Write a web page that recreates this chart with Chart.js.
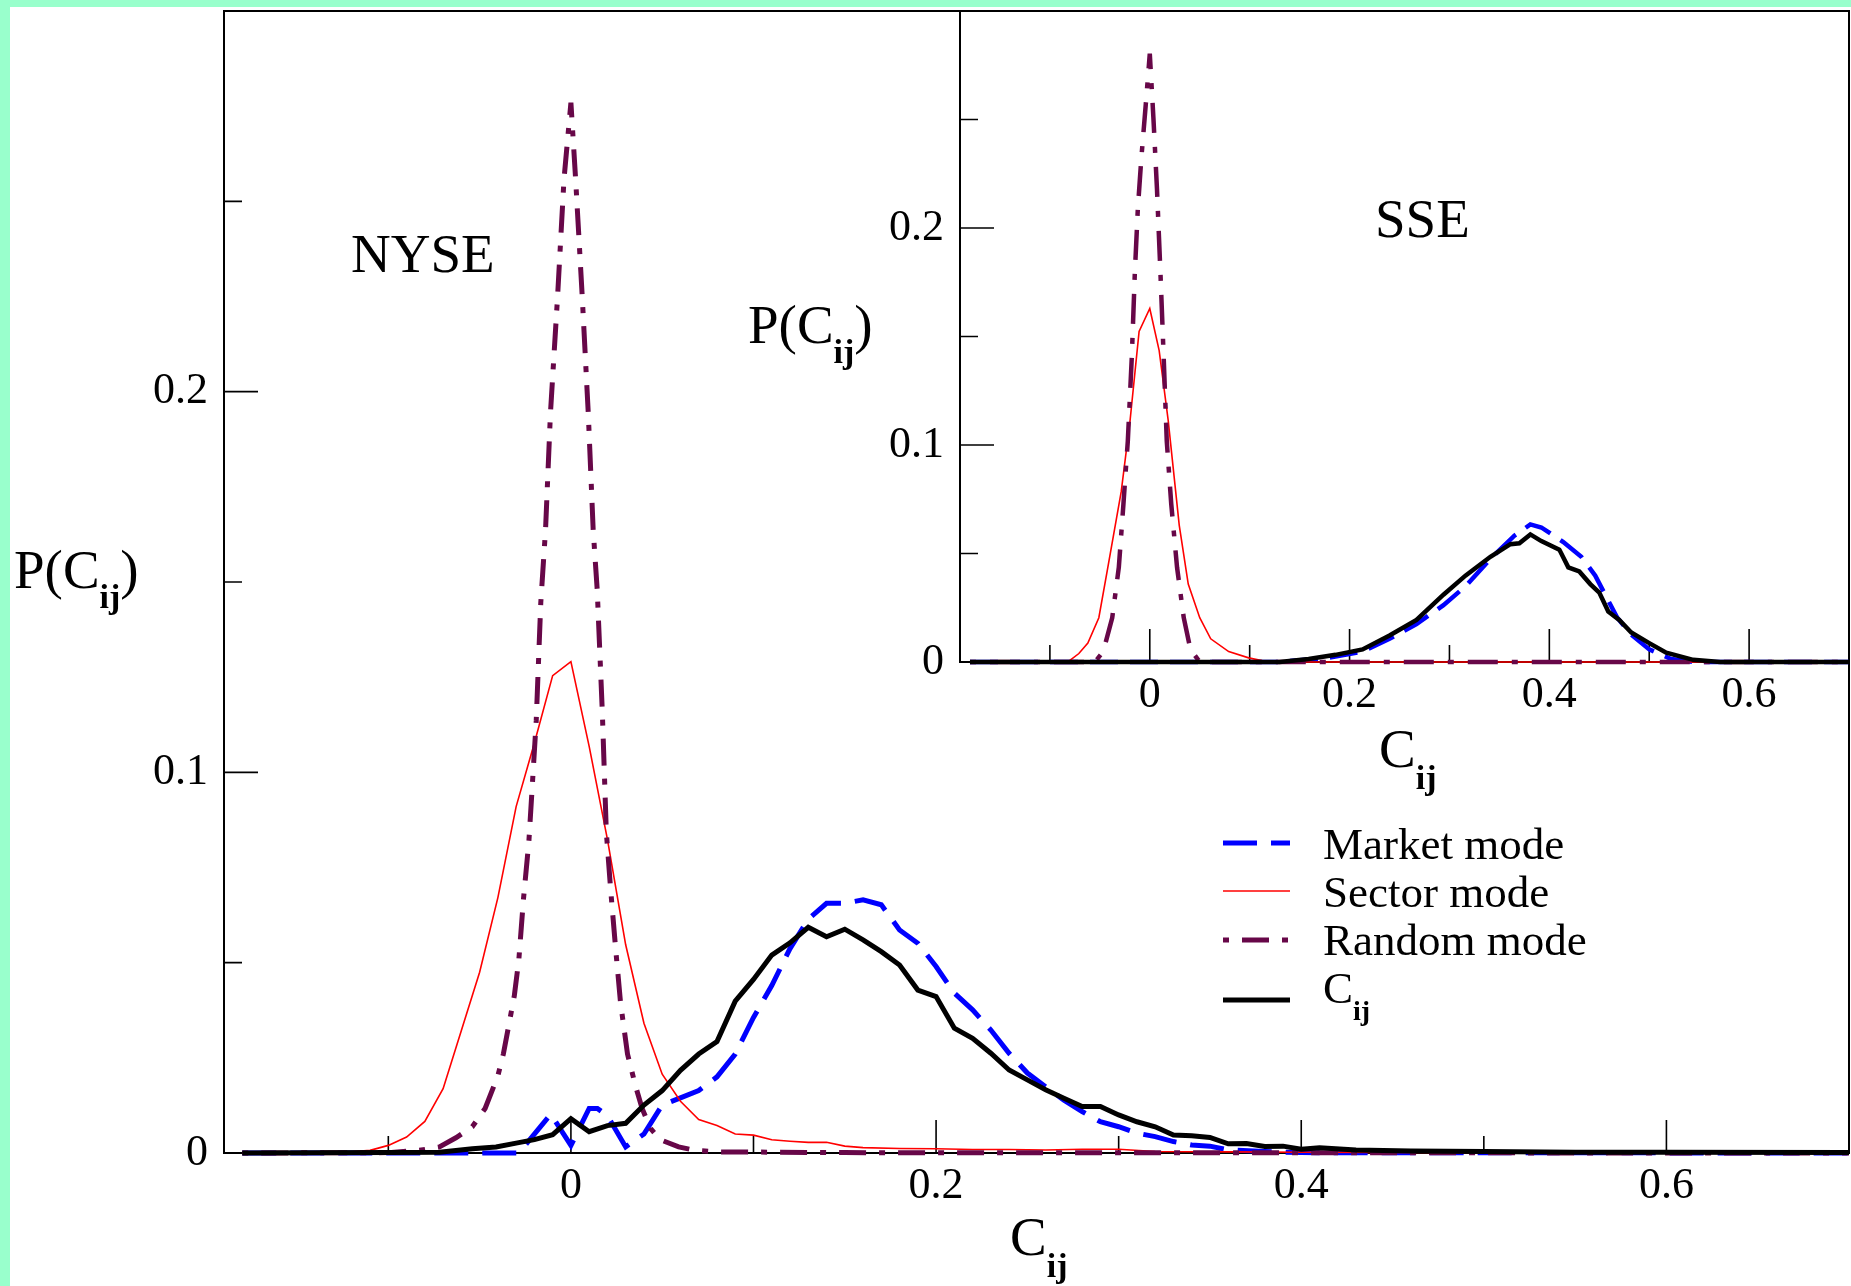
<!DOCTYPE html>
<html>
<head>
<meta charset="utf-8">
<script src="https://cdn.jsdelivr.net/npm/chart.js@4.4.1/dist/chart.umd.min.js"></script>
<style>
    html, body { margin: 0; padding: 0; }
    body { width: 1851px; height: 1286px; background: #99ffcc; position: relative; overflow: hidden; }
    #paper { position: absolute; left: 10px; top: 7px; right: 0; bottom: 0; background: #fff; }
    canvas { position: absolute; }
    #mainChart { left: 0; top: 0; }
    #insetChart { left: 700px; top: 0; }
</style>
</head>
<body>
<div id="paper"></div>
<canvas id="mainChart" width="1851" height="1286"></canvas>
<canvas id="insetChart" width="1151" height="820"></canvas>
<script>
const SERIF = "'Liberation Serif', 'Times New Roman', serif";

// NYSE distributions
const nyseMarketX = [-0.18, -0.04, -0.0285, -0.011, 0, 0.01, 0.0145, 0.02, 0.03, 0.04, 0.05, 0.06, 0.07, 0.08, 0.09, 0.10, 0.11, 0.12, 0.13, 0.14, 0.15, 0.16, 0.17, 0.18, 0.19, 0.20, 0.21, 0.22, 0.23, 0.24, 0.25, 0.26, 0.27, 0.28, 0.29, 0.30, 0.31, 0.32, 0.33, 0.34, 0.35, 0.36, 0.38, 0.40, 0.70];
const nyseMarketY = [0, 0, 0, 0.0102, 0.002, 0.0117, 0.0117, 0.0098, 0.0016, 0.005, 0.0126, 0.0145, 0.0164, 0.020, 0.026, 0.0356, 0.044, 0.0537, 0.0614, 0.0656, 0.0656, 0.0665, 0.0652, 0.0586, 0.0551, 0.049, 0.042, 0.0376, 0.0323, 0.0262, 0.021, 0.0174, 0.0139, 0.0109, 0.0082, 0.0069, 0.0052, 0.0043, 0.003, 0.0021, 0.0018, 0.0008, 0.0004, 0.0001, 0];

const nyseSectorX = [-0.18, -0.15, -0.12, -0.11, -0.10, -0.09, -0.08, -0.07, -0.06, -0.05, -0.04, -0.03, -0.02, -0.01, 0, 0.01, 0.02, 0.03, 0.04, 0.05, 0.06, 0.07, 0.08, 0.09, 0.10, 0.11, 0.12, 0.13, 0.14, 0.15, 0.16, 0.18, 0.20, 0.22, 0.24, 0.26, 0.28, 0.30, 0.32, 0.36, 0.40, 0.50, 0.60, 0.70];
const nyseSectorY = [0, 0.0001, 0.0003, 0.0007, 0.002, 0.0042, 0.0083, 0.0169, 0.0322, 0.0475, 0.0671, 0.091, 0.1077, 0.1254, 0.1291, 0.1068, 0.0824, 0.0547, 0.0341, 0.0207, 0.0136, 0.0088, 0.0072, 0.005, 0.0047, 0.0035, 0.0031, 0.0028, 0.0028, 0.0018, 0.0014, 0.0012, 0.0011, 0.0009, 0.0009, 0.0008, 0.001, 0.001, 0.0004, 0.0003, 0.0002, 0.0001, 0.0001, 0];

const nyseRandomX = [-0.18, -0.10, -0.083, -0.072, -0.063, -0.054, -0.047, -0.040, -0.037, -0.031, -0.0285, -0.026, -0.023, -0.021, -0.019, -0.0165, -0.0139, -0.0112, -0.0073, -0.0038, 0, 0.0026, 0.0062, 0.0095, 0.0122, 0.0144, 0.0172, 0.0194, 0.0218, 0.0245, 0.0272, 0.031, 0.0355, 0.039, 0.0437, 0.049, 0.059, 0.068, 0.08, 0.15, 0.70];
const nyseRandomY = [0, 0.0001, 0.0007, 0.0016, 0.004, 0.0069, 0.0117, 0.0203, 0.026, 0.0413, 0.0509, 0.0666, 0.082, 0.0977, 0.1135, 0.1446, 0.1637, 0.1944, 0.225, 0.2557, 0.2759, 0.2557, 0.225, 0.1944, 0.1637, 0.148, 0.1159, 0.0843, 0.069, 0.0537, 0.0394, 0.026, 0.0174, 0.0117, 0.0064, 0.0035, 0.0016, 0.0007, 0.0003, 0.0001, 0];

const nyseCijX = [-0.18, -0.10, -0.072, -0.054, -0.041, -0.03, -0.02, -0.01, 0, 0.01, 0.02, 0.03, 0.04, 0.05, 0.06, 0.07, 0.08, 0.09, 0.10, 0.11, 0.12, 0.13, 0.14, 0.15, 0.16, 0.17, 0.18, 0.19, 0.20, 0.21, 0.22, 0.23, 0.24, 0.25, 0.26, 0.27, 0.28, 0.29, 0.30, 0.31, 0.32, 0.33, 0.34, 0.35, 0.36, 0.37, 0.38, 0.39, 0.40, 0.41, 0.43, 0.46, 0.50, 0.55, 0.60, 0.70];
const nyseCijY = [0, 0.0001, 0.0002, 0.0011, 0.0016, 0.0026, 0.0035, 0.0048, 0.009, 0.0056, 0.0072, 0.0078, 0.0126, 0.0164, 0.0217, 0.026, 0.0293, 0.0399, 0.0456, 0.052, 0.0552, 0.0593, 0.0568, 0.0588, 0.056, 0.0529, 0.0494, 0.0428, 0.0411, 0.0328, 0.0301, 0.0262, 0.0218, 0.0192, 0.0166, 0.0144, 0.0122, 0.0122, 0.010, 0.0082, 0.0069, 0.0047, 0.0045, 0.0041, 0.0024, 0.0025, 0.0017, 0.0018, 0.001, 0.0014, 0.0008, 0.0005, 0.0004, 0.0002, 0.0002, 0.0001];

// SSE distributions
const sseMarketX = [-0.18, 0.13, 0.18, 0.213, 0.24, 0.267, 0.294, 0.316, 0.341, 0.365, 0.381, 0.392, 0.414, 0.432, 0.446, 0.457, 0.468, 0.482, 0.50, 0.522, 0.544, 0.70];
const sseMarketY = [0, 0, 0.002, 0.0048, 0.0107, 0.0175, 0.0262, 0.0349, 0.0475, 0.0582, 0.0634, 0.062, 0.0553, 0.0485, 0.0398, 0.030, 0.0204, 0.0126, 0.0058, 0.0014, 0, 0];

const sseSectorX = [-0.18, -0.082, -0.071, -0.062, -0.051, -0.042, -0.0286, -0.0197, -0.0107, 0, 0.0094, 0.0184, 0.0295, 0.0385, 0.05, 0.061, 0.079, 0.099, 0.119, 0.70];
const sseSectorY = [0, 0, 0.0039, 0.0087, 0.0204, 0.0436, 0.0785, 0.1115, 0.1523, 0.1629, 0.1435, 0.1115, 0.063, 0.0359, 0.0204, 0.0107, 0.0048, 0.0019, 0, 0];

const sseRandomX = [-0.18, -0.055, -0.0466, -0.0376, -0.031, -0.0264, -0.022, -0.018, -0.015, -0.012, -0.0085, -0.004, 0, 0.0036, 0.0072, 0.0107, 0.0139, 0.017, 0.0215, 0.0273, 0.034, 0.0407, 0.05, 0.70];
const sseRandomY = [0, 0, 0.0048, 0.0204, 0.0436, 0.0727, 0.1018, 0.1406, 0.179, 0.2085, 0.232, 0.257, 0.2803, 0.251, 0.218, 0.179, 0.1406, 0.1018, 0.0727, 0.0436, 0.0204, 0.0058, 0, 0];

const sseCijX = [-0.18, 0.13, 0.159, 0.186, 0.213, 0.24, 0.267, 0.294, 0.316, 0.341, 0.361, 0.37, 0.381, 0.392, 0.41, 0.419, 0.43, 0.441, 0.45, 0.459, 0.47, 0.482, 0.50, 0.517, 0.544, 0.571, 0.70];
const sseCijY = [0, 0, 0.0014, 0.0033, 0.0058, 0.0122, 0.0194, 0.031, 0.0398, 0.0485, 0.0543, 0.0547, 0.0588, 0.0557, 0.0518, 0.0436, 0.0417, 0.0359, 0.032, 0.0233, 0.0194, 0.0136, 0.0087, 0.0043, 0.001, 0, 0];

// axes (same ranges in both panels)
const xRange = [-0.19, 0.7];
const yRange = [0, 0.3];
const xMajorTicks = [0, 0.2, 0.4, 0.6];
const xTickLabels = ['0', '0.2', '0.4', '0.6'];
const xMinorTicks = [-0.1, 0.1, 0.3, 0.5];
const yMajorTicks = [0, 0.1, 0.2];
const yTickLabels = ['0', '0.1', '0.2'];
const yMinorTicks = [0.05, 0.15, 0.25];

const seriesNames = ['Market mode', 'Sector mode', 'Random mode', 'C'];

function points(xs, ys) {
    return xs.map((x, i) => ({ x: x, y: ys[i] }));
}

function makeDatasets(series, big) {
    const w = big ? 5 : 4.5;
    return [
        { label: seriesNames[0], data: points(series[0][0], series[0][1]), borderColor: '#0000ff', borderWidth: w, borderDash: big ? [34, 14] : [28, 12], order: 4 },
        { label: seriesNames[1], data: points(series[1][0], series[1][1]), borderColor: '#ff0000', borderWidth: 1.6, order: 3 },
        { label: seriesNames[2], data: points(series[2][0], series[2][1]), borderColor: 'rgb(103,7,72)', borderWidth: w, borderDash: big ? [6, 13, 27, 13] : [6, 14, 30, 14], order: 2 },
        { label: seriesNames[3], data: points(series[3][0], series[3][1]), borderColor: '#000000', borderWidth: w, order: 1 }
    ].map(ds => Object.assign(ds, { showLine: true, pointRadius: 0, fill: false, tension: 0, clip: 8, borderCapStyle: 'butt' }));
}

// text with a subscript, e.g. P(C_ij)
function subLabel(head, sub, tail, size, subSize, drop) {
    const parts = [{ text: head, size: size }, { text: sub, size: subSize, bold: true, dy: drop }];
    if (tail) parts.push({ text: tail, size: size });
    return parts;
}

function drawRich(ctx, parts, x, y) {
    let cx = x;
    parts.forEach(p => {
        ctx.font = (p.bold ? 'bold ' : '') + p.size + 'px ' + SERIF;
        ctx.fillText(p.text, cx, y + (p.dy || 0));
        cx += ctx.measureText(p.text).width;
    });
}

// frame, inward tick marks, free text and legend
const decorPlugin = {
    id: 'decor',
    beforeDatasetsDraw(chart, args, opts) {
        const ctx = chart.ctx;
        const a = chart.chartArea;
        const xs = chart.scales.x, ys = chart.scales.y;
        ctx.save();
        ctx.strokeStyle = '#000';
        ctx.lineWidth = 2;
        ctx.strokeRect(a.left, a.top, a.right - a.left, a.bottom - a.top);
        ctx.lineWidth = 1.6;
        ctx.beginPath();
        const xTick = (v, len) => { const p = xs.getPixelForValue(v); ctx.moveTo(p, a.bottom); ctx.lineTo(p, a.bottom - len); };
        const yTick = (v, len) => { const p = ys.getPixelForValue(v); ctx.moveTo(a.left, p); ctx.lineTo(a.left + len, p); };
        xMajorTicks.forEach(v => xTick(v, 33));
        xMinorTicks.forEach(v => xTick(v, 17));
        yMajorTicks.forEach(v => yTick(v, 34));
        yMinorTicks.forEach(v => yTick(v, 18));
        ctx.stroke();
        ctx.restore();
    },
    afterDraw(chart, args, opts) {
        const ctx = chart.ctx;
        ctx.save();
        ctx.fillStyle = '#000';
        ctx.textAlign = 'left';
        ctx.textBaseline = 'alphabetic';
        (opts.texts || []).forEach(t => drawRich(ctx, t.parts, t.x, t.y));
        if (opts.legend) {
            const L = opts.legend;
            chart.data.datasets.forEach((ds, i) => {
                ctx.save();
                ctx.strokeStyle = ds.borderColor;
                ctx.lineWidth = ds.borderWidth;
                ctx.setLineDash(ds.borderDash || []);
                ctx.beginPath();
                ctx.moveTo(L.x1, L.lineY[i]);
                ctx.lineTo(L.x2, L.lineY[i]);
                ctx.stroke();
                ctx.restore();
                const parts = i === 3 ? subLabel(ds.label, 'ij', '', 45, 28, 17) : [{ text: ds.label, size: 45 }];
                drawRich(ctx, parts, L.textX, L.baseY[i]);
            });
        }
        ctx.restore();
    }
};

function buildChart(canvasId, datasets, layout, decor) {
    return new Chart(document.getElementById(canvasId).getContext('2d'), {
        type: 'scatter',
        data: { datasets: datasets },
        options: {
            responsive: false,
            animation: false,
            devicePixelRatio: 1,
            layout: { padding: { left: 0, top: 11, right: 2, bottom: 0 } },
            plugins: { legend: { display: false }, tooltip: { enabled: false }, decor: decor },
            scales: {
                x: {
                    type: 'linear', min: xRange[0], max: xRange[1],
                    afterBuildTicks: s => { s.ticks = xMajorTicks.map(v => ({ value: v })); },
                    afterFit: s => { s.height = layout.xHeight; s.paddingLeft = 0; s.paddingRight = 0; },
                    ticks: { callback: (v, i) => xTickLabels[i], font: { family: SERIF, size: 44 }, color: '#000', padding: 7, autoSkip: false, maxRotation: 0 },
                    grid: { display: false, drawTicks: false },
                    border: { display: false }
                },
                y: {
                    type: 'linear', min: yRange[0], max: yRange[1],
                    afterBuildTicks: s => { s.ticks = yMajorTicks.map(v => ({ value: v })); },
                    afterFit: s => { s.width = layout.yWidth; s.paddingTop = 0; s.paddingBottom = 0; },
                    ticks: { callback: (v, i) => yTickLabels[i], font: { family: SERIF, size: 44 }, color: '#000', padding: 16, autoSkip: false },
                    grid: { display: false, drawTicks: false },
                    border: { display: false }
                }
            }
        },
        plugins: [decorPlugin]
    });
}

document.addEventListener('DOMContentLoaded', () => {
    buildChart('mainChart', makeDatasets([
        [nyseMarketX, nyseMarketY], [nyseSectorX, nyseSectorY], [nyseRandomX, nyseRandomY], [nyseCijX, nyseCijY]
    ], true), { xHeight: 133, yWidth: 224 }, {
        texts: [
            { parts: [{ text: 'NYSE', size: 55 }], x: 351, y: 272 },
            { parts: subLabel('P(C', 'ij', ')', 55, 34, 20), x: 14, y: 588 },
            { parts: subLabel('C', 'ij', '', 55, 34, 22), x: 1010, y: 1255 }
        ],
        legend: { x1: 1223, x2: 1290, textX: 1323, lineY: [843, 891, 940, 1000], baseY: [859, 907, 955, 1003] }
    });

    buildChart('insetChart', makeDatasets([
        [sseMarketX, sseMarketY], [sseSectorX, sseSectorY], [sseRandomX, sseRandomY], [sseCijX, sseCijY]
    ], false), { xHeight: 158, yWidth: 260 }, {
        texts: [
            { parts: [{ text: 'SSE', size: 55 }], x: 675, y: 237 },
            { parts: subLabel('P(C', 'ij', ')', 55, 34, 20), x: 48, y: 343 },
            { parts: subLabel('C', 'ij', '', 55, 34, 22), x: 679, y: 767 }
        ]
    });
});
</script>
</body>
</html>
